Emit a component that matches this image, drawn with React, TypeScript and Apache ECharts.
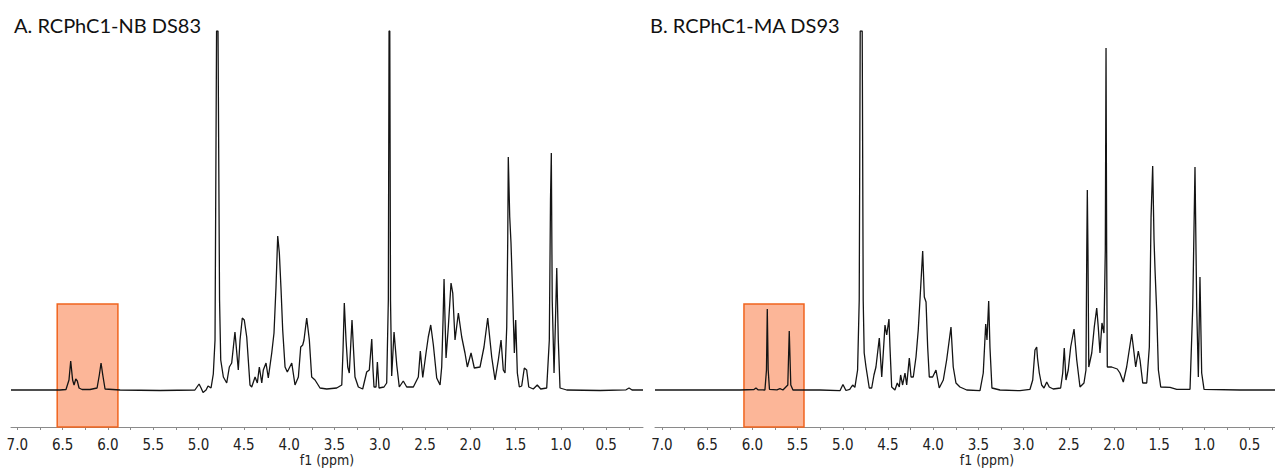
import React, { useEffect, useRef } from "react";
import * as echarts from "echarts";

// ---- Data (ppm, intensity above baseline) ----
const titleA = "A. RCPhC1-NB DS83";
const titleB = "B. RCPhC1-MA DS93";
const axisName = "f1 (ppm)";

const tickLabels = [7.0, 6.5, 6.0, 5.5, 5.0, 4.5, 4.0, 3.5, 3.0, 2.5, 2.0, 1.5, 1.0, 0.5];
const tickMarks = [7.0, 6.75, 6.5, 6.25, 6.0, 5.75, 5.5, 5.25, 5.0, 4.75, 4.5, 4.25, 4.0, 3.75, 3.5, 3.25, 3.0, 2.75, 2.5, 2.25, 2.0, 1.75, 1.5, 1.25, 1.0, 0.75, 0.5, 0.25];

const rangeA = [0.094, 7.07];
const rangeB = [0.219, 7.077];
const intensityRange = [-37, 359];

// highlighted regions: [ppm left, ppm right, top intensity]
const boxA = [6.56, 5.89, 86];
const boxB = [6.093, 5.429, 86];

const specA: number[][] = [
  [7.07, 0], [6.53, 0], [6.463, 0.5], [6.43, 10], [6.411, 29], [6.39, 10], [6.374, 5], [6.355, 11],
  [6.338, 9], [6.319, 2], [6.286, 0.5], [6.198, 0.5], [6.12, 2], [6.095, 15], [6.076, 27], [6.057, 15],
  [6.032, 1], [5.866, 0], [5.425, -0.5], [5.04, 0], [4.994, 6], [4.972, 2], [4.95, -2.5], [4.917, 0],
  [4.895, 4], [4.862, 2], [4.837, 16], [4.818, 50], [4.801, 359], [4.785, 359], [4.768, 90], [4.755, 30],
  [4.726, 13], [4.689, 7], [4.66, 23], [4.634, 27], [4.598, 58], [4.561, 20], [4.542, 50], [4.517, 72],
  [4.495, 70], [4.468, 53], [4.432, 5], [4.413, 3], [4.376, 13], [4.351, 7], [4.329, 23], [4.302, 7],
  [4.285, 20], [4.255, 27], [4.23, 12], [4.192, 37], [4.167, 57], [4.145, 103], [4.126, 154], [4.108, 137],
  [4.089, 100], [4.071, 60], [4.045, 23], [4.02, 18], [3.971, 27], [3.935, 5], [3.898, 13], [3.872, 43],
  [3.85, 45], [3.836, 50], [3.806, 72], [3.777, 50], [3.751, 13], [3.714, 10], [3.659, 2], [3.585, 1],
  [3.475, 2], [3.419, 5], [3.405, 40], [3.391, 87], [3.372, 50], [3.353, 23], [3.336, 17], [3.32, 45],
  [3.306, 70], [3.289, 40], [3.273, 13], [3.236, 3], [3.188, 1], [3.144, 18], [3.115, 20], [3.088, 51],
  [3.074, 20], [3.063, 3], [3.041, 3], [3.026, 28], [3.008, 2], [2.953, 3], [2.923, 7], [2.905, 90],
  [2.897, 359], [2.889, 359], [2.881, 90], [2.868, 14], [2.842, 58], [2.812, 25], [2.784, 3], [2.74, 9],
  [2.702, 3], [2.629, 3], [2.574, 13], [2.552, 39], [2.525, 12.5], [2.489, 37], [2.464, 53], [2.437, 65],
  [2.408, 45], [2.371, 12], [2.334, 5], [2.316, 23], [2.301, 70], [2.29, 111], [2.279, 70], [2.268, 32],
  [2.243, 63], [2.213, 107], [2.194, 97], [2.169, 50], [2.132, 77], [2.095, 53], [2.059, 37], [2.033, 23],
  [1.992, 37], [1.956, 22], [1.893, 23], [1.849, 43], [1.808, 72], [1.764, 33], [1.727, 10], [1.691, 30],
  [1.661, 50], [1.636, 20], [1.617, 17], [1.598, 63], [1.587, 150], [1.581, 233], [1.565, 173], [1.551, 147],
  [1.532, 93], [1.514, 37], [1.499, 70], [1.481, 17], [1.459, 3], [1.433, 4], [1.404, 22], [1.378, 20],
  [1.355, 3], [1.305, 1], [1.261, 5], [1.223, 1], [1.157, 2], [1.128, 50], [1.115, 190], [1.106, 237],
  [1.096, 90], [1.076, 17], [1.062, 63], [1.046, 122], [1.029, 50], [1.01, 2], [0.936, 0], [0.568, -0.5],
  [0.281, 0.2], [0.248, 2], [0.215, 0], [0.094, 0],
];

const specB: number[][] = [
  [7.077, 0], [6.137, 0], [5.982, 0.5], [5.96, 2], [5.938, 0.2], [5.861, 0], [5.844, 20], [5.835, 81],
  [5.825, 20], [5.811, 0.7], [5.728, 0.2], [5.695, 1.3], [5.662, 0], [5.608, 5], [5.592, 59], [5.575, 5],
  [5.551, 0], [5.252, 0], [5.031, -0.7], [4.998, 5.5], [4.965, -0.5], [4.923, 0.7], [4.891, 5], [4.866, 2.7],
  [4.836, 20], [4.818, 90], [4.807, 359], [4.785, 359], [4.774, 90], [4.763, 37], [4.743, 23], [4.707, 2],
  [4.68, 2], [4.655, 15], [4.633, 23], [4.596, 52], [4.569, 13], [4.552, 37], [4.533, 65], [4.514, 55],
  [4.489, 71], [4.478, 43], [4.459, 3], [4.423, 0], [4.397, 7], [4.375, 3], [4.36, 15], [4.338, 5],
  [4.312, 17], [4.293, 5], [4.264, 32], [4.245, 13], [4.22, 13], [4.19, 33], [4.165, 60], [4.138, 103],
  [4.116, 139], [4.098, 93], [4.079, 88], [4.061, 43], [4.043, 13], [4.006, 13], [3.969, 20], [3.933, 2],
  [3.888, 10], [3.851, 30], [3.803, 63], [3.778, 23], [3.748, 7], [3.704, 3], [3.629, 0], [3.482, -0.7],
  [3.446, 17], [3.419, 66], [3.405, 50], [3.386, 89], [3.372, 43], [3.35, 2], [3.261, 0], [3.04, -0.7],
  [2.929, 0.7], [2.899, 10], [2.874, 40], [2.855, 43], [2.846, 32], [2.826, 17], [2.8, 5], [2.774, 2],
  [2.744, 8], [2.716, 3], [2.672, 1], [2.59, 2], [2.567, 17], [2.55, 42], [2.531, 10], [2.506, 20],
  [2.479, 43], [2.442, 61], [2.412, 30], [2.376, 3], [2.332, 7], [2.31, 20], [2.301, 140], [2.295, 200],
  [2.288, 140], [2.279, 23], [2.246, 37], [2.218, 63], [2.191, 82], [2.174, 63], [2.155, 37], [2.133, 67],
  [2.111, 57], [2.096, 140], [2.088, 342], [2.081, 140], [2.074, 23], [2.026, 23], [1.964, 21], [1.934, 17],
  [1.897, 8], [1.86, 23], [1.804, 56], [1.786, 43], [1.76, 23], [1.731, 39], [1.712, 30], [1.682, 7],
  [1.638, 7], [1.609, 43], [1.59, 173], [1.572, 224], [1.557, 150], [1.546, 120], [1.527, 77], [1.509, 20],
  [1.483, 3], [1.38, 2.7], [1.306, 0.7], [1.159, 0.7], [1.129, 83], [1.104, 223], [1.085, 83], [1.067, 13],
  [1.049, 113], [1.03, 17], [1.004, 0.7], [0.606, 0], [0.219, 0],
];

const LABEL_FONT = "'DejaVu Sans Condensed', 'DejaVu Sans', sans-serif";

function makeXAxis(gridIndex: number, range: number[], namePad: number) {
  return {
    type: "value",
    gridIndex,
    inverse: true,
    min: range[0],
    max: range[1],
    name: axisName,
    nameLocation: "middle",
    nameGap: 26,
    nameMoveOverlap: false,
    nameTextStyle: {
      color: "#222",
      fontSize: 14,
      lineHeight: 14,
      fontFamily: LABEL_FONT,
      padding: [0, 0, 0, namePad],
    },
    axisLine: { show: true, onZero: false, lineStyle: { color: "#8a8a8a", width: 1 } },
    axisTick: { show: true, length: 3, customValues: tickMarks, lineStyle: { color: "#8a8a8a" } },
    axisLabel: {
      show: true,
      customValues: tickLabels,
      margin: 10,
      color: "#222",
      fontSize: 15,
      lineHeight: 15,
      fontFamily: LABEL_FONT,
      formatter: (v: number) => v.toFixed(1),
    },
    splitLine: { show: false },
  };
}

function makeYAxis(gridIndex: number) {
  return {
    type: "value",
    gridIndex,
    min: intensityRange[0],
    max: intensityRange[1],
    show: false,
  };
}

function boxSeries(xAxisIndex: number, box: number[]) {
  return {
    type: "line",
    xAxisIndex,
    yAxisIndex: xAxisIndex,
    data: [],
    z: 5,
    silent: true,
    markArea: {
      silent: true,
      itemStyle: { color: "rgba(249,122,68,0.55)", borderColor: "#f0641e", borderWidth: 1.5 },
      data: [[{ coord: [box[0], box[2]] }, { coord: [box[1], intensityRange[0]] }]],
    },
  };
}

function spectrumSeries(xAxisIndex: number, data: number[][]) {
  return {
    type: "line",
    xAxisIndex,
    yAxisIndex: xAxisIndex,
    data,
    showSymbol: false,
    symbol: "none",
    z: 2,
    lineStyle: { color: "#141414", width: 1.3 },
  };
}

export default function App() {
  const ref = useRef<HTMLDivElement>(null);
  useEffect(() => {
    if (!ref.current) return;
    const chart = echarts.init(ref.current, null, { renderer: "svg" });
    chart.setOption({
      animation: false,
      backgroundColor: "#ffffff",
      grid: [
        { left: 11, right: 632, top: 31, bottom: 41, outerBoundsMode: "none", containLabel: false },
        { left: 655, right: 0, top: 31, bottom: 41, outerBoundsMode: "none", containLabel: false },
      ],
      xAxis: [makeXAxis(0, rangeA, 0), makeXAxis(1, rangeB, 44)],
      yAxis: [makeYAxis(0), makeYAxis(1)],
      graphic: [
        {
          type: "text",
          left: 14,
          top: 15,
          style: { text: titleA, fontSize: 20, fontFamily: "Lato, 'Open Sans', sans-serif", fill: "#111" },
        },
        {
          type: "text",
          left: 650,
          top: 15,
          style: { text: titleB, fontSize: 20, fontFamily: "Lato, 'Open Sans', sans-serif", fill: "#111" },
        },
      ],
      series: [
        spectrumSeries(0, specA),
        spectrumSeries(1, specB),
        boxSeries(0, boxA),
        boxSeries(1, boxB),
      ],
    });
    return () => chart.dispose();
  }, []);
  return (
    <div
      ref={ref}
      style={{ position: "absolute", left: 0, top: 0, width: 1275, height: 468 }}
    />
  );
}
